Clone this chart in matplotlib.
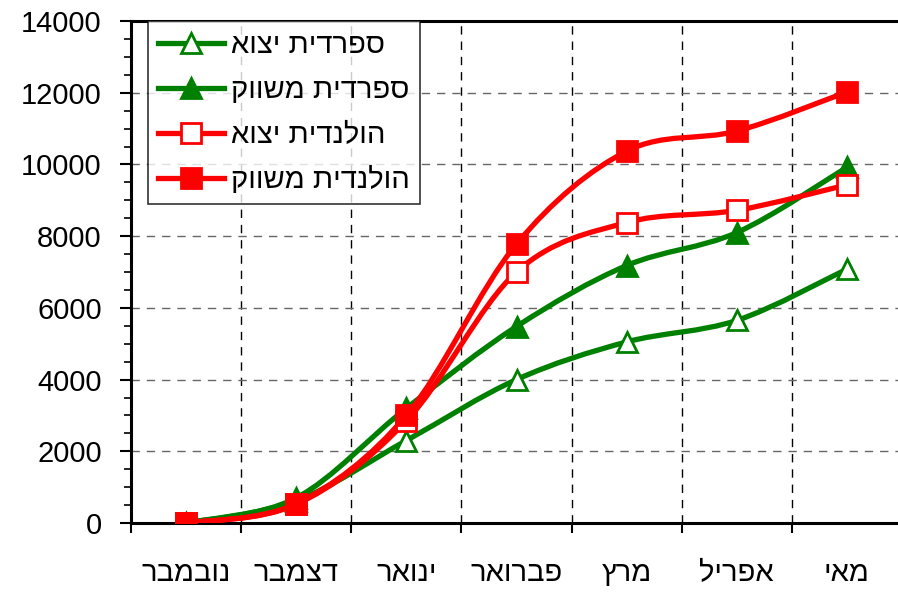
import matplotlib
matplotlib.use('Agg')
import matplotlib.pyplot as plt
from matplotlib.path import Path
from matplotlib.patches import PathPatch
from matplotlib.ticker import MultipleLocator, FixedLocator
from matplotlib.lines import Line2D
import numpy as np

plt.rcParams['font.family'] = ['Liberation Sans', 'DejaVu Sans']

# months, chronological (Nov..May)
months = ['נובמבר', 'דצמבר', 'ינואר', 'פברואר', 'מרץ', 'אפריל', 'מאי']

spanish_export = [0, 620, 2300, 4000, 5050, 5650, 7080]
spanish_market = [0, 700, 3200, 5480, 7180, 8100, 9920]
dutch_export = [0, 520, 2850, 7000, 8380, 8720, 9430]
dutch_market = [0, 540, 3000, 7780, 10370, 10930, 12020]

series_names = ['ספרדית יצוא', 'ספרדית משווק', 'הולנדית יצוא', 'הולנדית משווק']


def heb(s):
    # matplotlib has no bidi support: feed the glyphs in visual order
    return s[::-1]


def smooth_path(xs, ys):
    """Excel-style smoothed line: cubic bezier through every point."""
    p = np.column_stack([xs, ys]).astype(float)
    verts = [p[0]]
    codes = [Path.MOVETO]
    n = len(p)
    for i in range(n - 1):
        p0 = p[i - 1] if i > 0 else p[i]
        p3 = p[i + 2] if i + 2 < n else p[i + 1]
        c1 = p[i] + (p[i + 1] - p0) / 6.0
        c2 = p[i + 1] - (p3 - p[i]) / 6.0
        verts += [c1, c2, p[i + 1]]
        codes += [Path.CURVE4] * 3
    return Path(verts, codes)


GREEN = '#008000'
RED = '#ff0000'
styles = [
    dict(color=GREEN, marker='^', mfc='white', ms=15),
    dict(color=GREEN, marker='^', mfc=GREEN, ms=15),
    dict(color=RED, marker='s', mfc='white', ms=14),
    dict(color=RED, marker='s', mfc=RED, ms=15),
]

fig = plt.figure(figsize=(8.98, 5.92), dpi=100)
ax = fig.add_axes([131 / 898, 1 - 523 / 592, 771 / 898, 502 / 592])

x = np.arange(len(months))
handles = []
for vals, st, name in zip([spanish_export, spanish_market, dutch_export, dutch_market],
                          styles, series_names):
    ax.add_patch(PathPatch(smooth_path(x, vals), facecolor='none', edgecolor=st['color'],
                           lw=3.8, capstyle='round', joinstyle='round', zorder=3))
    ax.plot(x, vals, linestyle='none', marker=st['marker'], ms=st['ms'],
            mfc=st['mfc'], mec=st['color'], mew=2, zorder=4)
    handles.append(Line2D([], [], color=st['color'], lw=3.8, marker=st['marker'],
                          ms=st['ms'], mfc=st['mfc'], mec=st['color'], mew=2,
                          label=heb(name)))

ax.set_xlim(-0.5, len(months) - 0.5)
ax.set_ylim(0, 14000)

# y axis
ax.yaxis.set_major_locator(MultipleLocator(2000))
ax.yaxis.set_minor_locator(MultipleLocator(500))
ax.tick_params(axis='y', which='major', length=8, width=1.5, labelsize=21, pad=13)
ax.tick_params(axis='y', which='minor', length=5, width=1.2)

# x axis: labels at category centres, ticks at boundaries
ax.set_xticks(x)
ax.set_xticklabels([heb(m) for m in months])
ax.xaxis.set_minor_locator(FixedLocator(np.arange(-0.5, len(months), 1.0)))
ax.tick_params(axis='x', which='major', length=0, labelsize=21, pad=26)
ax.tick_params(axis='x', which='minor', length=7, width=1.5)

# grid: black dashed verticals, grey dashed horizontals
for xv in np.arange(0.5, len(months) - 0.5, 1.0):
    ax.axvline(xv, color='black', lw=1, ls=(0, (6, 5)), zorder=1)
for yv in range(2000, 14001, 2000):
    ax.axhline(yv, color='#666666', lw=1, ls=(0, (6, 5)), zorder=1)

for side in ['left', 'bottom', 'top', 'right']:
    ax.spines[side].set_linewidth(2.2)

leg = ax.legend(handles=handles, loc='upper left', bbox_to_anchor=(148 / 898, 1 - 21 / 592),
                bbox_transform=fig.transFigure, borderaxespad=0, fontsize=21,
                frameon=True, fancybox=False, handlelength=2.25, handletextpad=0.25,
                labelspacing=0.58, borderpad=0.35, markerfirst=True)
leg.get_frame().set_edgecolor('black')
leg.get_frame().set_linewidth(1.2)
leg.set_zorder(5)

fig.savefig('out.png', dpi=100)
